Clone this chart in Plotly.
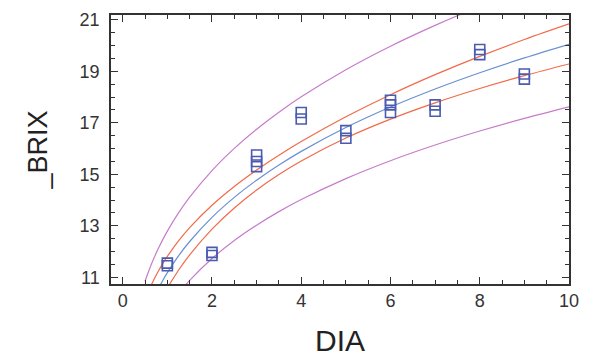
import plotly.graph_objects as go

# observed points (DIA, _BRIX)
dia = [1, 1, 2, 2, 3, 3, 3, 4, 4, 5, 5, 6, 6, 6, 7, 7, 8, 8, 9, 9]
brix = [11.45, 11.55, 11.85, 11.97, 15.3, 15.5, 15.75, 17.15, 17.4, 16.4, 16.7,
        17.4, 17.7, 17.88, 17.45, 17.7, 19.65, 19.85, 18.7, 18.9]

# fitted model and limits
cx = [0.5, 0.6, 0.7, 0.8, 0.9, 1.0, 1.25, 1.5, 2.0, 2.5, 3.0, 3.5, 4.0, 5.0, 6.0, 7.0, 8.0, 9.0, 10.0]
fit = [9.377, 9.821, 10.213, 10.565, 10.885, 11.18, 11.831, 12.391, 13.329, 14.106, 14.773,
       15.363, 15.892, 16.818, 17.614, 18.316, 18.948, 19.522, 20.051]
conf_hi = [10.133, 10.549, 10.915, 11.242, 11.539, 11.812, 12.414, 12.931, 13.800, 14.529, 15.166,
           15.742, 16.273, 17.236, 18.095, 18.872, 19.583, 20.237, 20.844]
conf_lo = [8.677, 9.143, 9.556, 9.928, 10.268, 10.582, 11.275, 11.873, 12.874, 13.695, 14.391,
           14.993, 15.520, 16.410, 17.145, 17.776, 18.333, 18.833, 19.288]
pred_hi = [10.845, 11.323, 11.746, 12.126, 12.473, 12.793, 13.501, 14.114, 15.146, 16.008, 16.753,
           17.415, 18.013, 19.065, 19.978, 20.788, 21.521, 22.191, 22.811]
pred_lo = [8.108, 8.518, 8.880, 9.205, 9.500, 9.771, 10.367, 10.878, 11.730, 12.430, 13.027,
           13.552, 14.021, 14.835, 15.530, 16.138, 16.682, 17.174, 17.625]

x_ticks = [0, 2, 4, 6, 8, 10]
y_ticks = [11, 13, 15, 17, 19, 21]

purple = "#c77ccb"
red = "#f26a48"
blue = "#6a90d4"

fig = go.Figure()
for ys, col in [(pred_hi, purple), (pred_lo, purple), (conf_hi, red), (conf_lo, red), (fit, blue)]:
    fig.add_trace(go.Scatter(x=cx, y=ys, mode="lines", line=dict(color=col, width=1.2, shape="spline"),
                             hoverinfo="skip"))
fig.add_trace(go.Scatter(x=dia, y=brix, mode="markers",
                         marker=dict(symbol="square-open", size=10, color="#4a5bb0", line=dict(width=1.6))))

axis_common = dict(showline=True, linecolor="#333333", linewidth=1.5, mirror="allticks",
                   ticks="inside", ticklen=7, tickwidth=1.3, tickcolor="#333333",
                   showgrid=False, zeroline=False,
                   tickfont=dict(family="Liberation Sans, Arial, sans-serif", size=18, color="#333333"),
                   minor=dict(ticks="inside", ticklen=4, tickcolor="#333333", dtick=0.5, showgrid=False))

fig.update_xaxes(range=[-0.263, 10.0], tickvals=x_ticks, **axis_common,
                 title=dict(text="DIA", font=dict(family="Liberation Sans, Arial, sans-serif", size=30, color="#222222"),
                            standoff=20))
fig.update_yaxes(range=[10.74, 21.19], tickvals=y_ticks, ticklabelstandoff=6, **axis_common,
                 title=dict(text="_BRIX", font=dict(family="Liberation Sans, Arial, sans-serif", size=27, color="#222222"),
                            standoff=24))

fig.update_layout(width=589, height=362, margin=dict(l=111, r=10, t=10, b=73),
                  paper_bgcolor="white", plot_bgcolor="white", showlegend=False)

fig.write_html("out.html")
